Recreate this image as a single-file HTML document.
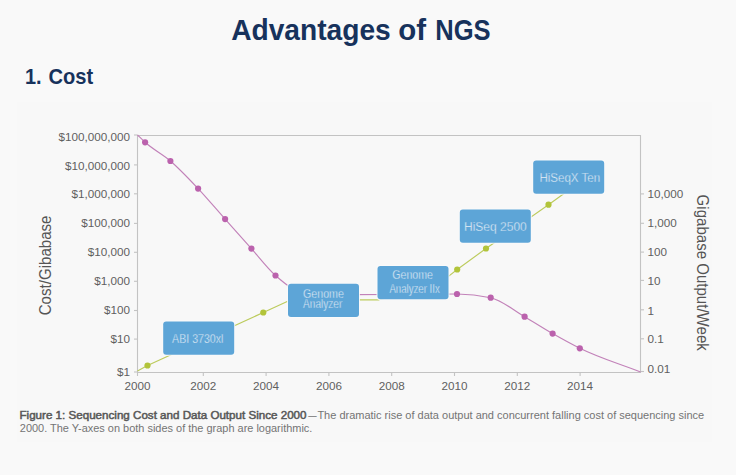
<!DOCTYPE html>
<html><head><meta charset="utf-8">
<style>
html,body{margin:0;padding:0;}
body{width:736px;height:475px;background:#f9f9f9;overflow:hidden;position:relative;font-family:"Liberation Sans",sans-serif;}
svg{position:absolute;left:0;top:0;}
.ax{font-family:"Liberation Sans",sans-serif;font-size:10.8px;fill:#5f5f5f;}
.at{font-family:"Liberation Sans",sans-serif;font-size:15px;fill:#555;}
.bt{font-family:"Liberation Sans",sans-serif;font-size:12.4px;fill:#f6f9fc;stroke:#5da5d7;stroke-width:0.4px;}
.ti{font-family:"Liberation Sans",sans-serif;font-weight:bold;fill:#17325c;}
.cap{font-family:"Liberation Sans",sans-serif;font-size:10px;fill:#747474;}
.capb{font-weight:normal;fill:#575757;stroke:#575757;stroke-width:0.45px;}
</style></head><body>
<svg width="736" height="475" viewBox="0 0 736 475">
<text x="231.2" y="39.6" class="ti" font-size="29.6" textLength="159.6" lengthAdjust="spacingAndGlyphs">Advantages</text><text x="398.2" y="39.6" class="ti" font-size="29.6" textLength="27.8" lengthAdjust="spacingAndGlyphs">of</text><text x="435.2" y="39.6" class="ti" font-size="29.6" textLength="55.4" lengthAdjust="spacingAndGlyphs">NGS</text>
<text x="25.0" y="83.7" class="ti" font-size="21.8" textLength="16.6" lengthAdjust="spacingAndGlyphs">1.</text><text x="48.6" y="83.7" class="ti" font-size="21.8" textLength="44.6" lengthAdjust="spacingAndGlyphs">Cost</text>
<rect x="17" y="102" width="695" height="340" fill="#f8f8f8"/>
<path d="M137.5,135.5 H640.5 V372.5 H137.5 Z" fill="none" stroke="#c3c3c3" stroke-width="1.1"/>
<line x1="134" y1="135.0" x2="137.5" y2="135.0" stroke="#c3c3c3" stroke-width="1.1"/>
<line x1="134" y1="164.9" x2="137.5" y2="164.9" stroke="#c3c3c3" stroke-width="1.1"/>
<line x1="134" y1="193.8" x2="137.5" y2="193.8" stroke="#c3c3c3" stroke-width="1.1"/>
<line x1="134" y1="223.4" x2="137.5" y2="223.4" stroke="#c3c3c3" stroke-width="1.1"/>
<line x1="134" y1="252.3" x2="137.5" y2="252.3" stroke="#c3c3c3" stroke-width="1.1"/>
<line x1="134" y1="281.3" x2="137.5" y2="281.3" stroke="#c3c3c3" stroke-width="1.1"/>
<line x1="134" y1="310.5" x2="137.5" y2="310.5" stroke="#c3c3c3" stroke-width="1.1"/>
<line x1="134" y1="339.1" x2="137.5" y2="339.1" stroke="#c3c3c3" stroke-width="1.1"/>
<line x1="134" y1="372.0" x2="137.5" y2="372.0" stroke="#c3c3c3" stroke-width="1.1"/>
<line x1="640.5" y1="193.9" x2="644" y2="193.9" stroke="#c3c3c3" stroke-width="1.1"/>
<line x1="640.5" y1="223.3" x2="644" y2="223.3" stroke="#c3c3c3" stroke-width="1.1"/>
<line x1="640.5" y1="252.1" x2="644" y2="252.1" stroke="#c3c3c3" stroke-width="1.1"/>
<line x1="640.5" y1="280.4" x2="644" y2="280.4" stroke="#c3c3c3" stroke-width="1.1"/>
<line x1="640.5" y1="309.8" x2="644" y2="309.8" stroke="#c3c3c3" stroke-width="1.1"/>
<line x1="640.5" y1="338.8" x2="644" y2="338.8" stroke="#c3c3c3" stroke-width="1.1"/>
<line x1="640.5" y1="371.5" x2="644" y2="371.5" stroke="#c3c3c3" stroke-width="1.1"/>
<line x1="137.5" y1="372.5" x2="137.5" y2="376" stroke="#c3c3c3" stroke-width="1.1"/>
<line x1="203.3" y1="372.5" x2="203.3" y2="376" stroke="#c3c3c3" stroke-width="1.1"/>
<line x1="266.1" y1="372.5" x2="266.1" y2="376" stroke="#c3c3c3" stroke-width="1.1"/>
<line x1="328.9" y1="372.5" x2="328.9" y2="376" stroke="#c3c3c3" stroke-width="1.1"/>
<line x1="391.7" y1="372.5" x2="391.7" y2="376" stroke="#c3c3c3" stroke-width="1.1"/>
<line x1="454.5" y1="372.5" x2="454.5" y2="376" stroke="#c3c3c3" stroke-width="1.1"/>
<line x1="517.3" y1="372.5" x2="517.3" y2="376" stroke="#c3c3c3" stroke-width="1.1"/>
<line x1="580.1" y1="372.5" x2="580.1" y2="376" stroke="#c3c3c3" stroke-width="1.1"/>
<text x="58.4" y="140.6" class="ax" textLength="71.6" lengthAdjust="spacingAndGlyphs">$100,000,000</text>
<text x="64.9" y="169.6" class="ax" textLength="65.1" lengthAdjust="spacingAndGlyphs">$10,000,000</text>
<text x="71.4" y="197.6" class="ax" textLength="58.6" lengthAdjust="spacingAndGlyphs">$1,000,000</text>
<text x="81.2" y="227.2" class="ax" textLength="48.8" lengthAdjust="spacingAndGlyphs">$100,000</text>
<text x="87.7" y="256.1" class="ax" textLength="42.3" lengthAdjust="spacingAndGlyphs">$10,000</text>
<text x="94.2" y="285.1" class="ax" textLength="35.8" lengthAdjust="spacingAndGlyphs">$1,000</text>
<text x="104.0" y="314.3" class="ax" textLength="26.0" lengthAdjust="spacingAndGlyphs">$100</text>
<text x="110.5" y="342.6" class="ax" textLength="19.5" lengthAdjust="spacingAndGlyphs">$10</text>
<text x="117.0" y="376.0" class="ax" textLength="13.0" lengthAdjust="spacingAndGlyphs">$1</text>
<text x="647.5" y="198.2" class="ax" textLength="35.8" lengthAdjust="spacingAndGlyphs">10,000</text>
<text x="647.5" y="227.4" class="ax" textLength="29.3" lengthAdjust="spacingAndGlyphs">1,000</text>
<text x="647.5" y="256.0" class="ax" textLength="19.5" lengthAdjust="spacingAndGlyphs">100</text>
<text x="647.5" y="284.8" class="ax" textLength="13.0" lengthAdjust="spacingAndGlyphs">10</text>
<text x="647.5" y="314.8" class="ax" textLength="6.5" lengthAdjust="spacingAndGlyphs">1</text>
<text x="647.5" y="342.8" class="ax" textLength="16.3" lengthAdjust="spacingAndGlyphs">0.1</text>
<text x="647.5" y="372.6" class="ax" textLength="22.8" lengthAdjust="spacingAndGlyphs">0.01</text>
<text x="124.5" y="389.5" class="ax" textLength="26.0" lengthAdjust="spacingAndGlyphs">2000</text>
<text x="190.3" y="389.5" class="ax" textLength="26.0" lengthAdjust="spacingAndGlyphs">2002</text>
<text x="253.1" y="389.5" class="ax" textLength="26.0" lengthAdjust="spacingAndGlyphs">2004</text>
<text x="315.9" y="389.5" class="ax" textLength="26.0" lengthAdjust="spacingAndGlyphs">2006</text>
<text x="378.7" y="389.5" class="ax" textLength="26.0" lengthAdjust="spacingAndGlyphs">2008</text>
<text x="441.5" y="389.5" class="ax" textLength="26.0" lengthAdjust="spacingAndGlyphs">2010</text>
<text x="504.3" y="389.5" class="ax" textLength="26.0" lengthAdjust="spacingAndGlyphs">2012</text>
<text x="567.1" y="389.5" class="ax" textLength="26.0" lengthAdjust="spacingAndGlyphs">2014</text>
<text transform="translate(51.3,315.3) rotate(-90)" class="at" font-size="16" style="font-size:16px" textLength="99.8" lengthAdjust="spacingAndGlyphs">Cost/Gibabase</text>
<text transform="translate(696.6,194.6) rotate(90)" class="at" style="font-size:15.6px" textLength="156.2" lengthAdjust="spacingAndGlyphs">Gigabase Output/Week</text>
<path d="M137.50,135.00 C140.03,137.43 142.57,140.00 145.10,142.30 C153.53,149.97 161.97,153.73 170.40,161.00 C179.63,168.96 188.87,178.78 198.10,188.60 C207.10,198.17 216.10,208.97 225.10,219.10 C233.87,228.97 242.63,238.79 251.40,248.60 C259.43,257.59 267.47,268.39 275.50,275.50 C287.00,285.68 298.50,294.60 310.00,294.60 C337.23,294.60 364.47,294.57 391.70,294.50 C413.47,294.45 435.23,294.00 457.00,294.00 C468.23,294.00 479.47,295.23 490.70,297.70 C502.00,300.18 513.30,310.10 524.60,316.70 C533.93,322.15 543.27,328.27 552.60,333.60 C561.67,338.78 570.73,343.82 579.80,348.30 C600.03,358.30 620.27,364.10 640.50,372.00" fill="none" stroke="#c282b9" stroke-width="1.15"/>
<path d="M137.5,371 L147.5,365.5 L263.3,312.5 L291,299.8 L379,299.8 L392,296.5 L448.1,276.6 L457.2,269.5 L486,248.5 L548.5,204.7 L580,182" fill="none" stroke="#bccb5c" stroke-width="1.15" stroke-linejoin="round"/>
<circle cx="145.1" cy="142.3" r="3.1" fill="#bb62ad"/>
<circle cx="170.4" cy="161.0" r="3.1" fill="#bb62ad"/>
<circle cx="198.1" cy="188.6" r="3.1" fill="#bb62ad"/>
<circle cx="225.1" cy="219.1" r="3.1" fill="#bb62ad"/>
<circle cx="251.4" cy="248.6" r="3.1" fill="#bb62ad"/>
<circle cx="275.5" cy="275.5" r="3.1" fill="#bb62ad"/>
<circle cx="457.0" cy="294.0" r="3.1" fill="#bb62ad"/>
<circle cx="490.7" cy="297.7" r="3.1" fill="#bb62ad"/>
<circle cx="524.6" cy="316.7" r="3.1" fill="#bb62ad"/>
<circle cx="552.6" cy="333.6" r="3.1" fill="#bb62ad"/>
<circle cx="579.8" cy="348.3" r="3.1" fill="#bb62ad"/>
<circle cx="147.5" cy="365.5" r="3.1" fill="#b2c43a"/>
<circle cx="263.3" cy="312.5" r="3.1" fill="#b2c43a"/>
<circle cx="457.2" cy="269.5" r="3.1" fill="#b2c43a"/>
<circle cx="486.0" cy="248.5" r="3.1" fill="#b2c43a"/>
<circle cx="548.5" cy="204.7" r="3.1" fill="#b2c43a"/>
<rect x="162.2" y="320.5" width="73" height="35.2" rx="4" fill="#fafafa" fill-opacity="0.9"/>
<rect x="163.2" y="321.5" width="71" height="33.2" rx="3" fill="#5da5d7"/>
<text x="172.1" y="342.6" class="bt" textLength="51.3" lengthAdjust="spacingAndGlyphs">ABI 3730xl</text>
<rect x="287.0" y="282.8" width="73" height="35.2" rx="4" fill="#fafafa" fill-opacity="0.9"/>
<rect x="288.0" y="283.8" width="71" height="33.2" rx="3" fill="#5da5d7"/>
<text x="303.1" y="298.3" class="bt" style="font-size:12px" textLength="40.8" lengthAdjust="spacingAndGlyphs">Genome</text>
<text x="303.1" y="307.9" class="bt" style="font-size:12px" textLength="39.2" lengthAdjust="spacingAndGlyphs">Analyzer</text>
<rect x="376.5" y="265.0" width="73" height="35.2" rx="4" fill="#fafafa" fill-opacity="0.9"/>
<rect x="377.5" y="266.0" width="71" height="33.2" rx="3" fill="#5da5d7"/>
<text x="392.3" y="279.3" class="bt" textLength="40.6" lengthAdjust="spacingAndGlyphs">Genome</text>
<text x="389.4" y="293.3" class="bt" textLength="50.4" lengthAdjust="spacingAndGlyphs">Analyzer IIx</text>
<rect x="458.8" y="208.5" width="73" height="35.2" rx="4" fill="#fafafa" fill-opacity="0.9"/>
<rect x="459.8" y="209.5" width="71" height="33.2" rx="3" fill="#5da5d7"/>
<text x="464.0" y="230.6" class="bt" textLength="62.8" lengthAdjust="spacingAndGlyphs">HiSeq 2500</text>
<rect x="532.2" y="159.6" width="73" height="35.2" rx="4" fill="#fafafa" fill-opacity="0.9"/>
<rect x="533.2" y="160.6" width="71" height="33.2" rx="3" fill="#5da5d7"/>
<text x="539.4" y="182.3" class="bt" textLength="60.8" lengthAdjust="spacingAndGlyphs">HiSeqX Ten</text>
<text x="19.5" y="418.8" class="cap capb" textLength="287.0" lengthAdjust="spacingAndGlyphs">Figure 1: Sequencing Cost and Data Output Since 2000</text><text x="308.2" y="418.8" class="cap" textLength="8.4" lengthAdjust="spacingAndGlyphs">—</text><text x="317.4" y="418.8" class="cap" textLength="386.8" lengthAdjust="spacingAndGlyphs">The dramatic rise of data output and concurrent falling cost of sequencing since</text>
<text x="19.8" y="432.2" class="cap" textLength="292.6" lengthAdjust="spacingAndGlyphs">2000. The Y-axes on both sides of the graph are logarithmic.</text>
</svg>
</body></html>
